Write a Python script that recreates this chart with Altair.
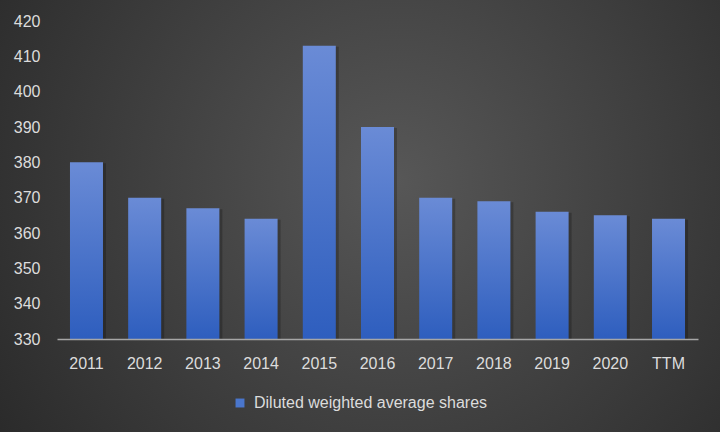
import altair as alt
import pandas as pd

categories = ["2011", "2012", "2013", "2014", "2015", "2016", "2017", "2018", "2019", "2020", "TTM"]
values = [380, 370, 367, 364, 413, 390, 370, 369, 366, 365, 364]
series_name = "Diluted weighted average shares"
y_ticks = [330, 340, 350, 360, 370, 380, 390, 400, 410, 420]
y_min, y_max = 330, 420

df = pd.DataFrame({"year": categories, "shares": values, "series": series_name})

W, H = 641, 318
PL, PT, PR, PB = 57, 21, 22, 93
FONT = "Liberation Sans"
TXT = "#dcdcdc"

bg_grad = {
    "gradient": "radial",
    "x1": 0.55, "y1": 0.45, "r1": 0.0,
    "x2": 0.55, "y2": 0.45, "r2": 0.75,
    "stops": [
        {"offset": 0.0, "color": "#575757"},
        {"offset": 1.0, "color": "#242424"},
    ],
}
bar_grad = {
    "gradient": "linear",
    "x1": 0, "y1": 0, "x2": 0, "y2": 1,
    "stops": [
        {"offset": 0.0, "color": "#6a8bd6"},
        {"offset": 1.0, "color": "#2e5ebe"},
    ],
}

x_enc = alt.X(
    "year:N", sort=categories, title=None,
    scale=alt.Scale(paddingInner=0.433, paddingOuter=0.223),
    axis=alt.Axis(labelAngle=0, labelFont=FONT, labelFontSize=16, labelColor=TXT,
                  labelPadding=16, ticks=False, domainColor="#a6a6a6", domainWidth=1.5,
                  grid=False, zindex=2),
)
y_enc = alt.Y(
    "shares:Q", title=None,
    scale=alt.Scale(domain=[y_min, y_max], zero=False, nice=False),
    axis=alt.Axis(values=y_ticks, labelFont=FONT, labelFontSize=16, labelColor=TXT,
                  labelPadding=17, ticks=False, domain=False, grid=False, zindex=2),
)
y2_enc = alt.Y2(datum=y_min)

background = alt.Chart(df).mark_rect(fill=bg_grad).encode(
    x=alt.value(-PL), x2=alt.value(W + PR), y=alt.value(-PT), y2=alt.value(H + PB)
)

shadow = alt.Chart(df).mark_bar(color="#000000", opacity=0.22, xOffset=3, yOffset=1).encode(
    x=x_enc, y=y_enc, y2=y2_enc
)

bars = alt.Chart(df).mark_bar(fill=bar_grad).encode(x=x_enc, y=y_enc, y2=y2_enc)

legend_layer = alt.Chart(df).mark_square(opacity=0, size=0).encode(
    x=x_enc, y=y_enc,
    color=alt.Color(
        "series:N", scale=alt.Scale(range=["#4a76cc"]), title=None,
        legend=alt.Legend(orient="none", legendX=175, legendY=374, direction="horizontal",
                          symbolType="square", symbolSize=80, symbolOpacity=1,
                          symbolStrokeWidth=0, labelFont=FONT, labelFontSize=16,
                          labelColor=TXT, labelLimit=400, labelOffset=6),
    ),
)

chart = alt.layer(background, shadow, bars, legend_layer).properties(
    width=W, height=H,
    padding={"left": PL, "top": PT, "right": PR, "bottom": PB},
    autosize=alt.AutoSizeParams(type="none"),
    background="#2a2a2a",
).configure_view(stroke=None)

chart.save("out.html", embed_options={"renderer": "svg", "actions": False})
